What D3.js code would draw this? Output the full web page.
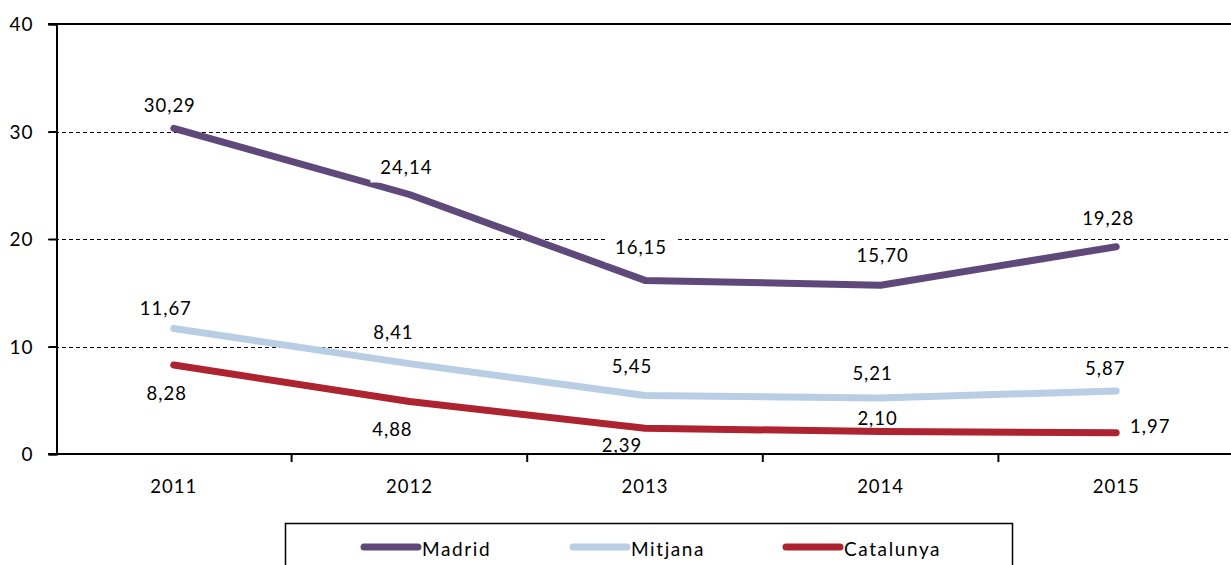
<!DOCTYPE html>
<html>
<head>
<meta charset="utf-8">
<script src="https://cdn.jsdelivr.net/npm/d3@7"></script>
<style>
  body { margin: 0; background: #fff; }
  svg text { font-family: Lato, "Open Sans", sans-serif; fill: #000; letter-spacing: 1px; }
</style>
</head>
<body>
<div id="chart"></div>
<script>
var years = ["2011", "2012", "2013", "2014", "2015"];
var madrid = [30.29, 24.14, 16.15, 15.70, 19.28];
var mitjana = [11.67, 8.41, 5.45, 5.21, 5.87];
var catalunya = [8.28, 4.88, 2.39, 2.10, 1.97];
var yTicks = [0, 10, 20, 30, 40];

// label nudges (pixels, relative to the point) - hand placed like in the original
var madridNudge = [[-4, -23], [-3, -27], [-4, -33], [2, -30], [-8, -29]];
var mitjanaNudge = [[-8, -21], [-16, -32], [-13, -29], [-8, -25], [-11, -23]];
var catalunyaNudge = [[-7, 28], [-17, 27], [-23, 17], [-3, -13], [34, -7]];

var W = 1231, H = 565;

var svg = d3.select("#chart").append("svg")
    .attr("width", W)
    .attr("height", H);

var x = d3.scaleBand()
    .domain(years)
    .range([56, 1234]);

var y = d3.scaleLinear()
    .domain([0, 40])
    .range([454, 24]);

var fmt = function(v) { return v.toFixed(2).replace(".", ","); };

// gridlines (dashed), top line solid
svg.append("g").selectAll("line")
    .data(yTicks.filter(function(t) { return t > 0 && t < 40; }))
    .enter().append("line")
    .attr("x1", 48).attr("x2", W)
    .attr("y1", function(d) { return Math.round(y(d)) + 0.5; })
    .attr("y2", function(d) { return Math.round(y(d)) + 0.5; })
    .attr("stroke", "#000")
    .attr("stroke-width", 1)
    .attr("shape-rendering", "crispEdges")
    .attr("stroke-dasharray", "4,3");

svg.append("line")
    .attr("x1", 48).attr("x2", W)
    .attr("y1", y(40)).attr("y2", y(40))
    .attr("stroke", "#000").attr("stroke-width", 2);

// y axis
var yAxis = svg.append("g")
    .attr("transform", "translate(56.5,0)")
    .call(d3.axisLeft(y).tickValues(yTicks).tickSize(8).tickPadding(15));
yAxis.select(".domain").attr("stroke-width", 2);
yAxis.selectAll(".tick line").attr("stroke-width", 2);
yAxis.selectAll("text").style("font-size", "19px").style("font-family", "Lato").attr("dy", "0.35em");

// x axis with ticks at category boundaries
svg.append("line")
    .attr("x1", 48).attr("x2", W)
    .attr("y1", y(0)).attr("y2", y(0))
    .attr("stroke", "#000").attr("stroke-width", 2);

svg.append("g").selectAll("line")
    .data(years)
    .enter().append("line")
    .attr("x1", function(d) { return x(d) + x.bandwidth(); })
    .attr("x2", function(d) { return x(d) + x.bandwidth(); })
    .attr("y1", y(0)).attr("y2", y(0) + 8)
    .attr("stroke", "#000").attr("stroke-width", 2);

svg.append("g").selectAll("text")
    .data(years)
    .enter().append("text")
    .attr("x", function(d) { return x(d) + x.bandwidth() / 2; })
    .attr("y", 486)
    .attr("text-anchor", "middle")
    .attr("dominant-baseline", "central")
    .style("font-size", "18.5px")
    .text(function(d) { return d; });

var series = [
  {name: "Madrid", values: madrid, color: "#5F497A", nudge: madridNudge, bg: true},
  {name: "Mitjana", values: mitjana, color: "#B9CDE5", nudge: mitjanaNudge, bg: false},
  {name: "Catalunya", values: catalunya, color: "#AD2330", nudge: catalunyaNudge, bg: false}
];

var line = d3.line()
    .x(function(d, i) { return x(years[i]) + x.bandwidth() / 2; })
    .y(function(d) { return y(d); });

series.forEach(function(s) {
  svg.append("path")
      .datum(s.values)
      .attr("fill", "none")
      .attr("stroke", s.color)
      .attr("stroke-width", 7)
      .attr("stroke-linecap", "round")
      .attr("stroke-linejoin", "round")
      .attr("d", line);
});

// data labels
series.forEach(function(s) {
  var g = svg.append("g");
  s.values.forEach(function(v, i) {
    var cx = x(years[i]) + x.bandwidth() / 2 + s.nudge[i][0];
    var cy = y(v) + s.nudge[i][1];
    if (s.bg) {
      g.append("rect")
          .attr("x", cx - 36).attr("y", cy - 15)
          .attr("width", 72).attr("height", 30)
          .attr("fill", "#fff");
    }
    g.append("text")
        .attr("x", cx)
        .attr("y", cy)
        .attr("text-anchor", "middle")
        .attr("dominant-baseline", "central")
        .style("font-size", "18.5px")
        .text(fmt(v));
  });
});

// legend
var legend = svg.append("g");
legend.append("rect")
    .attr("x", 285.5).attr("y", 523.5)
    .attr("width", 727).attr("height", 60)
    .attr("fill", "#fff")
    .attr("stroke", "#000")
    .attr("stroke-width", 1.5);

var legendX = [364, 573, 786];
series.forEach(function(s, i) {
  legend.append("line")
      .attr("x1", legendX[i]).attr("x2", legendX[i] + 54)
      .attr("y1", 547).attr("y2", 547)
      .attr("stroke", s.color)
      .attr("stroke-width", 7)
      .attr("stroke-linecap", "round");
  legend.append("text")
      .attr("x", legendX[i] + 58)
      .attr("y", 548)
      .attr("dominant-baseline", "central")
      .style("font-size", "19px")
      .style("letter-spacing", "1.6px")
      .text(s.name);
});
</script>
</body>
</html>
